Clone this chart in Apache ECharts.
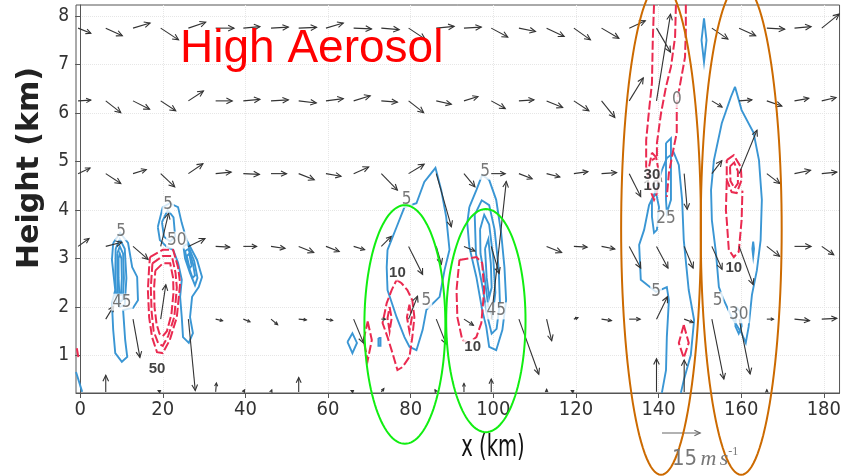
<!DOCTYPE html>
<html><head><meta charset="utf-8">
<script src="https://cdn.jsdelivr.net/npm/echarts@6/dist/echarts.min.js"></script>
<style>html,body{margin:0;padding:0;background:#fff}#c{width:844px;height:476px}</style>
</head><body><div id="c"></div>
<script>
// ---------------- data (km / m s-1) ----------------
const xTicks = [0, 20, 40, 60, 80, 100, 120, 140, 160, 180];
const yTicks = [1, 2, 3, 4, 5, 6, 7, 8];

// wind-vector grid
const vecX = [-0.5,6.2,12.8,19.5,26.2,32.8,39.5,46.2,52.9,59.5,66.2,72.9,79.5,86.2,92.9,99.5,106.2,112.9,119.5,126.2,132.9,139.5,146.2,152.9,159.5,166.2,172.9,179.5];
const vecZ = [7.75, 6.25, 4.75, 3.25, 1.75, 0.25];
const U = [
 [5,6.5,6.7,7,6.8,7.2,6.5,6.8,7,6.8,7,7,6.5,7,6.8,6.5,6.5,6.9,6.5,6.8,6.3,5.5,null,6.3,6.5,7,6.5,6.8],
 [5,5.9,6.5,5.9,5.9,6.5,6.5,6.8,6.9,6.8,6.5,6.3,5.9,5.9,5.5,5.5,5.9,6.3,5.9,5.2,5.5,5.5,null,4,5,5.9,5.6,5.6],
 [4.7,5.9,5.2,5.5,5.7,6.1,6.3,6.1,6.1,5.9,5.9,6.3,6.1,5.9,4.3,5.5,5.2,5.2,5.5,5.9,4.5,2,1.2,3.9,7,5.1,6.3,5.9],
 [4.3,6.3,5.9,3.1,6.5,5.5,5.2,5.5,5.9,5.2,4.3,3.9,5.5,2,4.3,3.1,null,5.9,5.2,5.2,4.5,4.5,3.5,4,5.5,5,6.5,4.7],
 [null,3.1,2.7,2,2.7,2.7,2.6,2.6,3,2.6,3.9,1.6,3.5,3.9,3.7,5.9,7.8,2,1.6,3.9,4.3,4.3,3.5,4.7,4.3,2.6,5.9,5.9],
 [null,0,null,-1,null,0.3,0.5,0.3,0,null,-1,1,null,-0.5,0,0,null,0,-1,null,null,0,0,null,null,0,null,null]
];
const W = [
 [-2,-3,2,-4.6,2.3,0,0.6,0.4,0.3,2,-0.3,-0.6,-4.3,0.7,0.4,-3.5,-1.3,-3.3,-4.6,-4,2.9,-9.4,null,-4.3,-3,-0.4,0.6,5.5],
 [0.3,-4.6,-3.3,-3.9,3.9,0,0.6,0.4,-0.8,0.9,2,-0.5,-4.6,-1.3,1.7,-3,0.4,-2.6,-3.9,-6.5,9,34,null,-2.4,0.4,-2,1,1.3],
 [2.2,-3.9,1.6,-5.2,3.9,0.6,-0.3,0,-2.4,-1,2.6,-6.5,3.7,-20.8,-5.2,0,-2,-1.3,0.8,0.4,-9,-3,-14,5.1,17,-3.9,1.3,0.6],
 [3.1,1.6,-5.1,13,3.1,-0.3,0,-0.8,-2.4,-2,-1.3,3.9,-11,-7,-1.8,-10.6,null,-2.4,-0.3,-1,-8.5,-8.5,-8.5,-9,-15,-3.9,0,-3.3],
 [null,5.1,-15,13.5,-28,-0.6,-1,-2.2,-0.3,-0.5,-9.4,0,9,-9.8,-2.4,54,-21.6,-8.5,0.6,-0.6,0,8.8,-1.3,-23.5,-21.5,0,-0.6,0.3],
 [null,6.5,null,0.5,null,3.5,0.8,0.8,5.6,null,0.5,1.3,null,0.8,3.3,5,null,1,0.5,null,null,13,12.5,null,null,0.8,null,null]
];

// contours [x km, z km]
const blueClosed = [
 [[8.0,3.32],[9.7,3.53],[11.6,3.32],[12.6,2.82],[13.8,2.62],[14.0,2.14],[12.8,1.98],[10.4,1.94],[10.9,1.32],[11.4,0.97],[10.1,0.87],[8.5,1.05],[8.0,1.53],[7.7,2.08],[8.5,2.35],[7.7,2.97]],
 [[8.6,3.2],[9.6,3.4],[10.8,3.2],[11.2,2.6],[10.8,2.05],[9.6,2.0],[8.8,2.1],[8.5,2.6]],
 [[9.0,3.1],[9.6,3.25],[10.4,3.1],[10.6,2.6],[10.3,2.15],[9.6,2.1],[9.1,2.3],[9.0,2.7]],
 [[9.3,3.0],[9.6,3.1],[10.0,3.0],[10.1,2.6],[9.9,2.25],[9.5,2.25],[9.3,2.6]],
 [[18.8,3.65],[20.0,4.06],[21.7,4.14],[23.7,4.06],[24.6,3.73],[25.8,3.38],[28.3,2.97],[29.5,2.62],[28.7,2.41],[27.1,2.21],[26.6,1.79],[27.3,1.46],[26.3,1.26],[24.9,1.38],[24.6,1.79],[24.2,2.21],[24.6,2.56],[23.7,2.91],[22.5,3.18],[21.0,3.24],[19.3,3.38]],
 [[19.8,3.75],[21.2,4.0],[22.6,3.85],[23.0,3.45],[21.8,3.35],[20.3,3.45]],
 [[25.0,3.25],[26.0,3.3],[27.6,2.95],[28.4,2.6],[27.8,2.45],[26.6,2.7],[25.4,3.0]],
 [[25.4,3.15],[26.2,3.2],[27.3,2.9],[27.8,2.65],[27.2,2.6],[26.2,2.85]],
 [[25.8,3.05],[26.4,3.1],[27.0,2.85],[26.5,2.8]],
 [[74.4,3.18],[76.6,3.65],[78.5,4.06],[81.4,4.14],[83.3,4.58],[86.0,4.87],[87.4,4.41],[88.6,3.86],[89.4,3.18],[88.2,2.76],[87.0,2.21],[84.5,2.0],[83.8,1.94],[82.9,1.53],[81.4,1.11],[79.7,1.18],[78.5,1.38],[76.6,1.79],[74.4,2.35],[74.2,2.82]],
 [[64.7,1.28],[65.9,1.46],[67.0,1.26],[65.9,1.05]],
 [[72.2,1.36],[72.7,1.36],[72.7,1.2],[72.2,1.2]],
 [[94.2,4.06],[95.9,4.41],[97.3,4.72],[99.0,4.62],[100.7,4.21],[101.9,3.53],[102.7,2.82],[103.1,2.14],[102.2,1.53],[100.7,1.11],[99.0,1.18],[98.3,1.59],[97.3,1.94],[95.9,2.62],[94.2,3.24],[93.7,3.73]],
 [[95.5,3.9],[97.2,4.2],[99,4.1],[100.3,3.6],[101.3,2.8],[101.6,2.1],[100.8,1.55],[99.6,1.45],[98.6,1.8],[97.2,2.5],[95.8,3.1]],
 [[96.8,3.6],[97.8,3.9],[99,3.7],[100,3.0],[100.5,2.3],[99.8,1.8],[98.8,2.0],[97.9,2.6],[96.9,3.1]],
 [[98,3.2],[98.8,3.4],[99.4,2.9],[99.6,2.4],[99.0,2.2],[98.4,2.6]],
 [[138.4,4.21],[139.4,4.35],[140.1,4.06],[139.6,3.59],[138.9,3.53],[138.4,3.86]],
 [[141.8,5.38],[143.0,5.48],[143.0,4.21],[142.0,3.94],[141.8,4.21]],
 [[151.0,7.95],[151.6,7.5],[151.0,7.05],[150.4,7.5]],
 [[158.5,6.54],[160.1,6.06],[163.0,5.59],[164.3,5.03],[165.0,4.21],[164.7,3.38],[163.8,2.76],[162.6,2.25],[161.8,1.59],[161.1,1.26],[160.1,1.46],[157.7,1.79],[155.8,2.14],[154.6,2.41],[153.9,3.11],[152.9,3.79],[152.7,4.41],[153.4,5.03],[155.3,5.79],[157.5,6.33]],
 [[158.8,2.0],[159.8,1.9],[160.1,1.6],[159.4,1.45],[158.6,1.6]],
 [[162.9,3.35],[163.1,3.2],[162.9,3.05],[162.7,3.2]]
];
const blueOpen = [
 [[140.8,0.23],[141.8,0.70],[142.0,1.38],[142.5,2.14],[142.0,2.41],[139.4,2.31],[135.7,2.56],[135.3,3.28],[136.5,3.59],[137.7,4.10],[138.9,4.31],[140.8,4.82],[142.0,5.07],[143.7,5.18],[144.9,4.93],[145.7,4.21],[146.1,3.38],[147.3,2.35],[148.6,1.73],[147.8,1.01],[146.1,0.49],[145.4,0.23]],
 [[-1,0.66],[0.5,0.25]]
];
const redClosed = [
 [[16.9,3.03],[20.0,3.18],[22.5,3.18],[23.7,2.82],[24.2,2.49],[23.4,1.79],[21.7,1.32],[20.0,1.05],[18.6,1.07],[17.4,1.38],[16.7,1.79],[16.4,2.35],[16.7,2.82]],
 [[17.5,2.9],[20,3.05],[22.2,3.05],[23.1,2.7],[23.4,2.4],[22.8,1.8],[21.3,1.4],[20,1.2],[18.9,1.25],[17.8,1.5],[17.3,1.9],[17.1,2.4]],
 [[18.2,2.75],[20,2.9],[21.8,2.9],[22.5,2.6],[22.6,2.3],[22.1,1.85],[21,1.5],[20,1.4],[19.2,1.45],[18.5,1.65],[18.0,2.0],[17.9,2.4]],
 [[76.6,2.56],[77.8,2.49],[79.2,2.35],[80.4,2.14],[80.9,1.79],[80.4,1.38],[79.7,0.97],[78.0,0.76],[76.8,0.70],[75.6,1.05],[74.4,1.38],[73.2,1.67],[74.2,2.08],[75.4,2.35]],
 [[79.7,2.05],[80.3,1.79],[79.7,1.5],[79.1,1.79]],
 [[74.9,2.0],[75.4,1.77],[74.9,1.5],[74.4,1.77]],
 [[69.6,1.7],[70.6,1.32],[69.6,0.9],[68.6,1.32]],
 [[91.8,2.97],[95.9,3.03],[97.3,2.91],[97.8,2.35],[97.1,1.67],[95.9,1.38],[94.2,1.26],[92.5,1.32],[91.3,1.79],[91.1,2.35]],
 [[138.4,5.18],[139.4,5.09],[140.1,4.76],[139.6,4.35],[138.9,4.21],[137.7,4.47],[137.7,4.89]],
 [[156.5,5.03],[158.2,5.13],[159.9,4.89],[160.1,4.62],[158.9,4.35],[157.7,4.37],[156.5,4.62]],
 [[157.3,4.9],[158.3,4.98],[159.2,4.8],[159.2,4.55],[158.4,4.45],[157.4,4.6]],
 [[146.1,1.63],[147.3,1.26],[146.1,0.95],[144.9,1.26]]
];
const redOpen = [
 [[138.9,8.23],[138.6,7.5],[138.4,6.62],[137.7,6.06],[137.0,5.44],[137.0,4.89],[137.7,4.62]],
 [[144.2,8.23],[144.0,7.57],[143.0,6.95],[141.8,6.54],[140.6,6.0],[139.6,5.38],[139.6,5.09],[138.4,5.03]],
 [[146.6,8.23],[146.6,7.71],[146.4,7.15],[145.4,6.68],[144.4,6.21],[144.4,5.59],[143.7,5.3],[142.5,4.76],[142.0,4.27]],
 [[156.5,4.6],[156.3,4.0],[156.5,3.79],[157.0,3.18],[158.2,3.03],[159.4,3.14],[160.1,3.79],[160.3,4.4]],
 [[-0.8,1.15],[-0.4,0.95]]
];

const grayLabels = [[9.9,3.55,'5'],[10.1,2.1,'45'],[21.3,4.12,'5'],[23.4,3.38,'50'],[79,4.22,'5'],[83.8,2.14,'5'],[98,4.8,'5'],[100.7,1.92,'45'],[144.4,6.27,'0'],[141.8,3.83,'25'],[139.4,2.31,'5'],[154.3,2.14,'5'],[159.4,1.84,'30']];
const boldLabels = [[18.6,0.72,'50'],[76.8,2.7,'10'],[95,1.18,'10'],[138.4,4.5,'10'],[138.4,4.72,'30'],[158.2,2.8,'10']];

// annotation ellipses [cx, cz, rx, rz]
const greenEllipses = [[78.6,1.64,9.8,2.46],[98.2,1.72,9.6,2.3]];
const orangeEllipses = [[140.6,3.61,9.66,5.07],[160.0,3.61,9.8,5.07]];

const refSpeed = 15;
// ---------------- build ----------------
const S = 2.55; // px per m/s
const vectors = [];
for (let r = 0; r < vecZ.length; r++)
  for (let k = 0; k < vecX.length; k++)
    if (U[r][k] !== null) vectors.push([vecX[k], vecZ[r], U[r][k], W[r][k]]);

const close = a => a.concat([a[0]]);
const blueLines = blueClosed.map(c => ({coords: close(c)})).concat(blueOpen.map(c => ({coords: c})));
const redLines = redClosed.map(c => ({coords: close(c)})).concat(redOpen.map(c => ({coords: c})));

function arrowShape(x0, y0, dx, dy, color) {
  const len = Math.hypot(dx, dy);
  const x1 = x0 + dx, y1 = y0 + dy;
  const ch = [{type: 'line', shape: {x1: x0, y1: y0, x2: x1, y2: y1}, style: {stroke: color, lineWidth: 1.1}}];
  if (len > 0.3) {
    const a = Math.atan2(dy, dx), hl = Math.min(6.5, Math.max(3, len * 0.4)), sp = 0.45;
    ch.push({type: 'polyline', shape: {points: [
      [x1 - hl * Math.cos(a - sp), y1 - hl * Math.sin(a - sp)], [x1, y1],
      [x1 - hl * Math.cos(a + sp), y1 - hl * Math.sin(a + sp)]]},
      style: {stroke: color, fill: null, lineWidth: 1.1}});
  }
  return ch;
}

function ellipseRender(color) {
  return function (params, api) {
    const c = api.coord([api.value(0), api.value(1)]);
    const sz = api.size([api.value(2), api.value(3)]);
    const pts = [];
    for (let i = 0; i <= 120; i++) {
      const t = i / 120 * Math.PI * 2;
      pts.push([c[0] + sz[0] * Math.cos(t), c[1] + sz[1] * Math.sin(t)]);
    }
    return {type: 'polyline', shape: {points: pts}, style: {stroke: color, fill: null, lineWidth: 2}};
  };
}

const narrow = "'Liberation Sans Narrow','DejaVu Sans Condensed','Arial Narrow',sans-serif";
const chart = echarts.init(document.getElementById('c'), null, {renderer: 'canvas'});
chart.setOption({
  animation: false,
  backgroundColor: '#fff',
  grid: {left: 76, right: 3, top: 5, bottom: 83, show: true, borderColor: '#555', borderWidth: 1},
  xAxis: {
    type: 'value', min: -1, max: 183.8,
    axisLine: {show: true, lineStyle: {color: '#555'}},
    axisTick: {show: true, customValues: xTicks, length: 5, lineStyle: {color: '#555'}},
    axisLabel: {customValues: xTicks, color: '#333', fontSize: 20, fontFamily: narrow, margin: 7},
    splitLine: {show: true, lineStyle: {color: '#e6e6e6', type: 'dotted'}}
  },
  yAxis: {
    type: 'value', min: 0.227, max: 8.227,
    axisLine: {show: true, lineStyle: {color: '#555'}},
    axisTick: {show: true, customValues: yTicks, length: 5, lineStyle: {color: '#555'}},
    axisLabel: {customValues: yTicks, color: '#333', fontSize: 19, fontFamily: narrow, margin: 7},
    splitLine: {show: true, lineStyle: {color: '#e6e6e6', type: 'dotted'}}
  },
  series: [
    {type: 'lines', coordinateSystem: 'cartesian2d', polyline: true, silent: true, z: 3,
     lineStyle: {color: '#3a96d4', width: 1.9, opacity: 1}, data: blueLines},
    {type: 'lines', coordinateSystem: 'cartesian2d', polyline: true, silent: true, z: 3,
     lineStyle: {color: '#ea2a50', width: 2, opacity: 1, type: [9, 3]}, data: redLines},
    {type: 'custom', coordinateSystem: 'cartesian2d', z: 5, clip: true, silent: true,
     renderItem: function (params, api) {
       const p = api.coord([api.value(0), api.value(1)]);
       return {type: 'group', children: arrowShape(p[0], p[1], api.value(2) * S, -api.value(3) * S, '#333')};
     }, data: vectors},
    {type: 'scatter', symbolSize: 0, z: 6, silent: true,
     label: {show: true, position: 'inside', formatter: p => p.data[2], color: '#555', fontSize: 17,
             fontFamily: narrow, backgroundColor: '#fff', padding: [0, 1]},
     data: grayLabels},
    {type: 'scatter', symbolSize: 0, z: 7, silent: true,
     label: {show: true, position: 'inside', formatter: p => p.data[2], color: '#111', fontSize: 15, fontWeight: 'bold',
             fontFamily: "'Liberation Sans',Arial,sans-serif", backgroundColor: '#fff', padding: [0, 1]},
     data: boldLabels},
    {type: 'custom', coordinateSystem: 'cartesian2d', z: 10, clip: false, silent: true,
     renderItem: ellipseRender('#11ee11'), data: greenEllipses},
    {type: 'custom', coordinateSystem: 'cartesian2d', z: 10, clip: false, silent: true,
     renderItem: ellipseRender('#cc6a00'), data: orangeEllipses}
  ],
  graphic: [
    {type: 'text', left: 180, top: 26, z: 20,
     style: {text: 'High Aerosol', fill: '#ff0000', font: "46px 'Liberation Sans', Arial, sans-serif"}},
    {type: 'text', x: 30, y: 168, rotation: Math.PI / 2, z: 20,
     style: {text: 'Height (km)', fill: '#222', font: "bold 30px 'DejaVu Sans', Verdana, sans-serif", align: 'center', verticalAlign: 'middle'}},
    {type: 'text', x: 493, y: 448, z: 20, scaleX: 0.7,
     style: {text: 'x (km)', fill: '#111', font: "31px " + narrow, align: 'center', verticalAlign: 'middle'}},
    {type: 'group', x: 662, y: 433, z: 20, children: arrowShape(0, 0, refSpeed * S, 0, '#666')},
    {type: 'text', x: 672, y: 459, z: 20,
     style: {text: '{n|' + refSpeed + '} {i|m} {i|s}{sup|-1}', verticalAlign: 'middle',
       rich: {n: {fontSize: 22, fill: '#777', fontFamily: narrow},
              i: {fontSize: 22, fill: '#777', fontStyle: 'italic', fontFamily: "'Liberation Serif','DejaVu Serif',serif"},
              sup: {fontSize: 12, fill: '#777', fontFamily: "'Liberation Serif',serif", verticalAlign: 'top', padding: [0, 0, 14, 0]}}}}
  ]
});
</script></body></html>
